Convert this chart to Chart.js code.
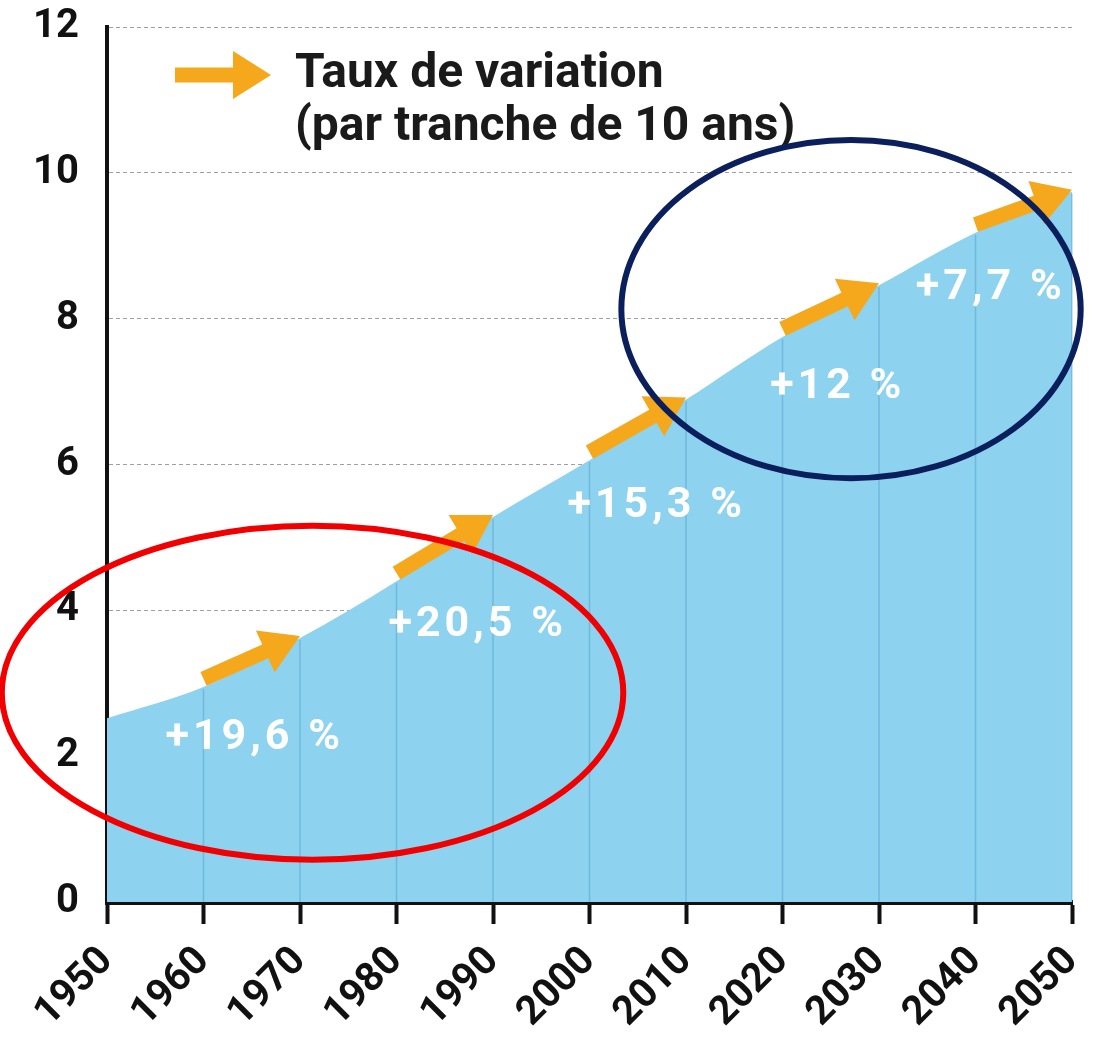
<!DOCTYPE html>
<html>
<head>
<meta charset="utf-8">
<script src="https://cdn.jsdelivr.net/npm/chart.js@4.4.1/dist/chart.umd.min.js"></script>
<style>
  html, body { margin: 0; padding: 0; background: #ffffff; }
  canvas { display: block; }
</style>
</head>
<body>
<canvas id="popChart" width="1095" height="1045"></canvas>
<script>
// Population mondiale (milliards), 1950-2050
const years = [1950, 1960, 1970, 1980, 1990, 2000, 2010, 2020, 2030, 2040, 2050];
const population = [2.52, 2.95, 3.62, 4.4, 5.28, 6.06, 6.89, 7.75, 8.46, 9.18, 9.74];
const yTicks = [0, 2, 4, 6, 8, 10, 12];

// taux de variation par tranche de 10 ans
const variationFrom = [1960, 1980, 2000, 2020, 2040];
const variationTo = [1970, 1990, 2010, 2030, 2050];
const variationLabels = ['+19,6 %', '+20,5 %', '+15,3 %', '+12 %', '+7,7 %'];

const legendLines = ['Taux de variation', '(par tranche de 10 ans)'];

// cercles ajoutés sur le graphique : [année centre, valeur centre, rayon années, rayon valeur]
const redCircle = [1971.3, 2.87, 32.2, 2.29];
const blueCircle = [2027.1, 8.13, 23.8, 2.32];

// petit décalage horizontal des pourcentages (px), comme sur l'original
const labelNudge = [3, 33, 19, 7, -33];

const ORANGE = '#f5a81c';
const FONT = 'Roboto, "DejaVu Sans", sans-serif';

function valueAt(year) {
    const i = years.indexOf(year);
    return population[i];
}

function drawArrow(ctx, x1, y1, x2, y2, shaft, headLen, headW) {
    const dx = x2 - x1, dy = y2 - y1;
    const len = Math.sqrt(dx * dx + dy * dy);
    const ux = dx / len, uy = dy / len;
    const nx = -uy, ny = ux;
    const bx = x2 - ux * headLen, by = y2 - uy * headLen;
    ctx.save();
    ctx.fillStyle = ORANGE;
    ctx.beginPath();
    ctx.moveTo(x1 + nx * shaft / 2, y1 + ny * shaft / 2);
    ctx.lineTo(bx + nx * shaft / 2, by + ny * shaft / 2);
    ctx.lineTo(bx + nx * headW / 2, by + ny * headW / 2);
    ctx.lineTo(x2, y2);
    ctx.lineTo(bx - nx * headW / 2, by - ny * headW / 2);
    ctx.lineTo(bx - nx * shaft / 2, by - ny * shaft / 2);
    ctx.lineTo(x1 - nx * shaft / 2, y1 - ny * shaft / 2);
    ctx.closePath();
    ctx.fill();
    ctx.restore();
}

const annotations = {
    id: 'annotations',
    afterDatasetsDraw(chart) {
        const ctx = chart.ctx;
        const xs = chart.scales.x, ys = chart.scales.y;
        const area = chart.chartArea;

        // traits verticaux dans l'aire
        ctx.save();
        ctx.strokeStyle = 'rgba(60, 140, 185, 0.35)';
        ctx.lineWidth = 1.5;
        years.forEach((yr, i) => {
            if (i === 0) return;
            const px = xs.getPixelForValue(yr);
            ctx.beginPath();
            ctx.moveTo(px, ys.getPixelForValue(0));
            ctx.lineTo(px, ys.getPixelForValue(population[i]) + 2);
            ctx.stroke();
        });
        ctx.restore();

        // flèches et pourcentages
        variationFrom.forEach((from, i) => {
            const to = variationTo[i];
            const x1 = xs.getPixelForValue(from), y1 = ys.getPixelForValue(valueAt(from)) - 8;
            const x2 = xs.getPixelForValue(to), y2 = ys.getPixelForValue(valueAt(to)) - 2;
            drawArrow(ctx, x1, y1, x2, y2, 15, 38, 46);

            const midVal = (valueAt(from) + valueAt(to)) / 2;
            ctx.save();
            ctx.fillStyle = '#ffffff';
            ctx.font = 'bold 43px ' + FONT;
            ctx.letterSpacing = '4px';
            ctx.textAlign = 'center';
            ctx.textBaseline = 'middle';
            ctx.fillText(variationLabels[i], xs.getPixelForValue((from + to) / 2) + labelNudge[i], ys.getPixelForValue(midVal) + 76);
            ctx.restore();
        });

        // légende
        const lx = area.left + 68, ly = area.top + 48;
        drawArrow(ctx, lx, ly, lx + 96, ly, 15, 38, 48);
        ctx.save();
        ctx.fillStyle = '#1a1a1a';
        ctx.font = 'bold 48px ' + FONT;
        ctx.textBaseline = 'middle';
        ctx.fillText(legendLines[0], lx + 120, ly);
        ctx.fillText(legendLines[1], lx + 120, ly + 53);
        ctx.restore();

        // ellipses
        [[redCircle, '#f00000'], [blueCircle, '#0b1f5c']].forEach(([c, color]) => {
            const cx = xs.getPixelForValue(c[0]);
            const cy = ys.getPixelForValue(c[1]);
            const rx = xs.getPixelForValue(c[0] + c[2]) - cx;
            const ry = ys.getPixelForValue(c[1] - c[3]) - cy;
            ctx.save();
            ctx.strokeStyle = color;
            ctx.lineWidth = 6;
            ctx.beginPath();
            ctx.ellipse(cx, cy, rx, ry, 0, 0, Math.PI * 2);
            ctx.stroke();
            ctx.restore();
        });
    }
};

const ctx = document.getElementById('popChart');
new Chart(ctx, {
    type: 'line',
    data: {
        datasets: [{
            label: 'Population mondiale',
            data: years.map((yr, i) => ({ x: yr, y: population[i] })),
            fill: 'origin',
            backgroundColor: '#8dd2ef',
            borderWidth: 0,
            pointRadius: 0,
            cubicInterpolationMode: 'monotone'
        }]
    },
    options: {
        responsive: false,
        animation: false,
        devicePixelRatio: 1,
        layout: { padding: { left: 0, right: 23, top: 27, bottom: 0 } },
        plugins: {
            legend: { display: false },
            tooltip: { enabled: false }
        },
        scales: {
            x: {
                type: 'linear',
                min: 1950,
                max: 2050,
                afterFit: (scale) => {
                    scale.height = 143;
                    scale.paddingLeft = 0;
                    scale.paddingRight = 0;
                },
                afterBuildTicks: (scale) => { scale.ticks = years.map(v => ({ value: v })); },
                border: { display: true, color: '#111', width: 5 },
                grid: { drawOnChartArea: false, drawTicks: true, tickLength: 22, tickWidth: 4, tickColor: '#111' },
                ticks: {
                    color: '#111',
                    font: { family: FONT, size: 40, weight: 'bold' },
                    minRotation: 45,
                    maxRotation: 45,
                    padding: 14,
                    callback: (v) => String(v)
                }
            },
            y: {
                min: 0,
                max: 12,
                afterFit: (scale) => {
                    scale.width = 107;
                    scale.paddingTop = 0;
                    scale.paddingBottom = 0;
                },
                afterBuildTicks: (scale) => { scale.ticks = yTicks.map(v => ({ value: v })); },
                border: { display: true, color: '#111', width: 4, dash: [4, 3] },
                grid: { drawTicks: false, color: '#a0a0a0', lineWidth: 1 },
                ticks: {
                    color: '#111',
                    font: { family: FONT, size: 40, weight: 'bold' },
                    padding: 28
                }
            }
        }
    },
    plugins: [annotations]
});
</script>
</body>
</html>
